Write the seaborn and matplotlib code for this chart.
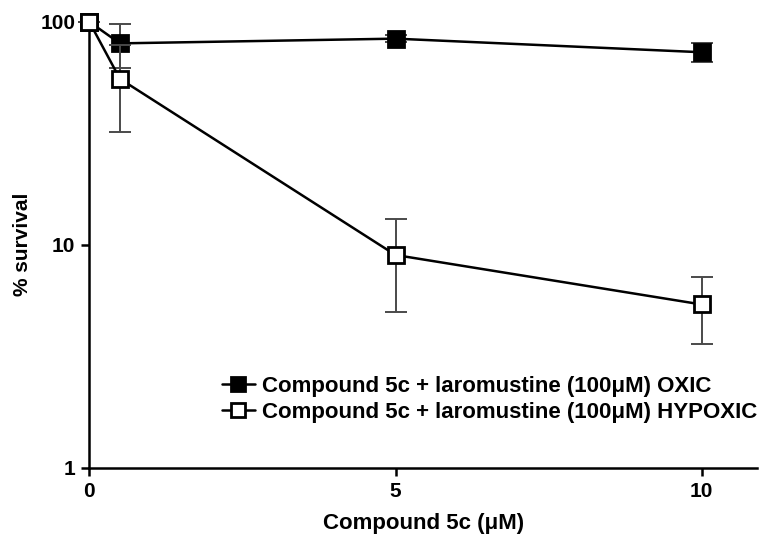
import matplotlib
matplotlib.use("Agg")
import matplotlib.pyplot as plt
import seaborn as sns
import pandas as pd
import numpy as np

sns.set_theme(style="ticks")
plt.rcParams['font.family'] = ['Liberation Sans', 'DejaVu Sans']
plt.rcParams['font.weight'] = 'bold'
plt.rcParams['text.color'] = 'black'
plt.rcParams['axes.labelcolor'] = 'black'

conc = [0, 0.5, 5, 10]
oxic_mean = [100, 80, 84, 73]
oxic_sd = [0, 18, 3, 7]
hypoxic_mean = [100, 55.5, 9.0, 5.4]
hypoxic_sd = [0, 23.5, 4.0, 1.8]

label_oxic = "Compound 5c + laromustine (100μM) OXIC"
label_hyp = "Compound 5c + laromustine (100μM) HYPOXIC"

df = pd.DataFrame({
    "conc": conc * 2,
    "survival": oxic_mean + hypoxic_mean,
    "sd": oxic_sd + hypoxic_sd,
    "series": [label_oxic] * 4 + [label_hyp] * 4,
})

fig = plt.figure(figsize=(7.63, 5.44), dpi=100)
ax = fig.add_axes([0.117, 0.140, 0.875, 0.820])

for lab, face, z in [(label_oxic, "black", 3), (label_hyp, "white", 5)]:
    sub = df[df.series == lab]
    eb = ax.errorbar(sub.conc, sub.survival, yerr=sub.sd, fmt="none",
                     ecolor="#4a4a4a", elinewidth=1.4, capsize=8, capthick=1.4, zorder=z - 1)
    for art in eb.lines[1] + eb.lines[2]:
        art.set_clip_on(False)
    sns.lineplot(data=sub, x="conc", y="survival", ax=ax, color="black",
                 linewidth=1.8, marker="s", markersize=12, markerfacecolor=face,
                 markeredgecolor="black", markeredgewidth=2, label=lab, zorder=z,
                 errorbar=None)
for ln in ax.lines:
    ln.set_clip_on(False)

ax.set_yscale("log")
ax.set_ylim(1, 100)
ax.set_xlim(0, 10.9)
ax.set_yticks([1, 10, 100])
ax.set_yticklabels(["1", "10", "100"])
ax.yaxis.set_minor_locator(matplotlib.ticker.NullLocator())
ax.set_xticks([0, 5, 10])
ax.set_xticklabels(["0", "5", "10"])
for sp in ["top", "right"]:
    ax.spines[sp].set_visible(False)
for sp in ["left", "bottom"]:
    ax.spines[sp].set_linewidth(1.8)
    ax.spines[sp].set_color("black")
ax.tick_params(axis="both", width=1.8, length=6, labelsize=15, colors="black", pad=4)
for t in ax.get_xticklabels() + ax.get_yticklabels():
    t.set_fontweight("bold")

ax.set_xlabel("Compound 5c (μM)", fontsize=16, fontweight="bold", labelpad=9)
ax.set_ylabel("% survival", fontsize=15, fontweight="bold", labelpad=6)

leg = ax.legend(loc="lower right", bbox_to_anchor=(1.0, 0.10), frameon=False,
                fontsize=16, handlelength=1.5, handletextpad=0.3, labelspacing=0.25,
                borderaxespad=0, borderpad=0, markerscale=0.8)
for t in leg.get_texts():
    t.set_fontweight("bold")

fig.savefig("out.png", dpi=100)
